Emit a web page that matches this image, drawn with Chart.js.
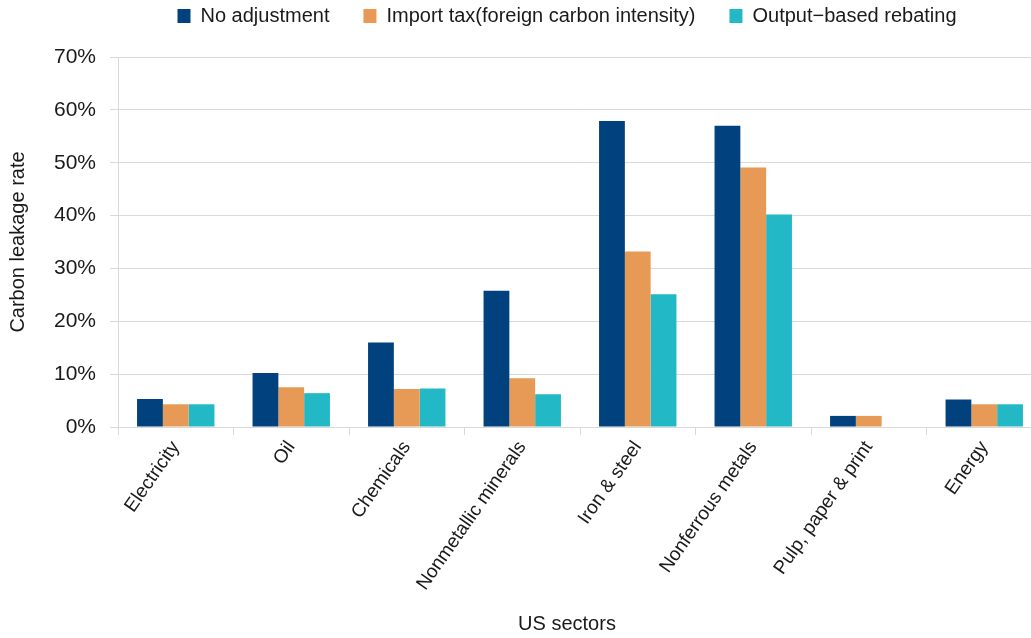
<!DOCTYPE html>
<html>
<head>
<meta charset="utf-8">
<script src="https://cdn.jsdelivr.net/npm/chart.js@4.4.1/dist/chart.umd.min.js"></script>
<style>
  html, body { margin: 0; padding: 0; background: #ffffff; overflow: hidden; }
  #wrap { width: 1042px; height: 638px; position: relative; }
</style>
</head>
<body>
<div id="wrap"><canvas id="chart"></canvas></div>
<script>
// US sectors and carbon leakage rates (%) under three border policies
const sectors = ['Electricity', 'Oil', 'Chemicals', 'Nonmetallic minerals', 'Iron & steel', 'Nonferrous metals', 'Pulp, paper & print', 'Energy'];
const noAdjustment = [5.3, 10.2, 16.0, 25.8, 57.9, 57.0, 2.1, 5.2];
const importTax = [4.3, 7.5, 7.2, 9.2, 33.2, 49.1, 2.1, 4.3];
const outputRebating = [4.3, 6.4, 7.3, 6.2, 25.1, 40.2, 0, 4.3];
const seriesNames = ['No adjustment', 'Import tax(foreign carbon intensity)', 'Output\u2212based rebating'];
const yTicks = [0, 10, 20, 30, 40, 50, 60, 70];

const FONT = "'Liberation Sans', Arial, sans-serif";
const TEXT = '#1a1a1a';
const GRID = '#d9d9d9';

// nudge the legend row and the x-axis title
const placement = {
  id: 'placement',
  afterLayout(chart) {
    const o = chart.options.plugins.placement;
    const lg = chart.legend;
    lg.left += o.legendDx; lg.right += o.legendDx;
    lg.top += o.legendDy; lg.bottom += o.legendDy;
  },
  beforeDraw(chart) {
    const o = chart.options.plugins.placement;
    const s = chart.scales.x;
    if (!s._titleShifted) {
      const orig = s.drawTitle.bind(s);
      s.drawTitle = function () {
        const c = chart.ctx;
        c.save();
        c.translate(o.titleDx, 0);
        orig();
        c.restore();
      };
      s._titleShifted = true;
    }
  }
};

new Chart(document.getElementById('chart'), {
  type: 'bar',
  data: {
    labels: sectors,
    datasets: [
      { label: seriesNames[0], data: noAdjustment, backgroundColor: '#00417e' },
      { label: seriesNames[1], data: importTax, backgroundColor: '#e69a55' },
      { label: seriesNames[2], data: outputRebating, backgroundColor: '#22b8c5' }
    ]
  },
  plugins: [placement],
  options: {
    responsive: true,
    maintainAspectRatio: false,
    animation: false,
    events: [],
    datasets: { bar: { barPercentage: 1, categoryPercentage: 0.67, borderWidth: 0 } },
    layout: { padding: { top: -7, left: 0, right: 0, bottom: 2 } },
    plugins: {
      placement: { legendDx: 46, legendDy: -21, titleDx: -13 },
      tooltip: { enabled: false },
      legend: {
        position: 'top',
        labels: {
          font: { family: FONT, size: 20 },
          color: TEXT,
          boxWidth: 13,
          boxHeight: 14,
          padding: 34
        }
      }
    },
    scales: {
      x: {
        afterFit: s => { s.height = 209; },
        grid: { drawOnChartArea: false, color: GRID, tickLength: 8, offset: true },
        border: { color: GRID },
        ticks: {
          font: { family: FONT, size: 19 },
          color: TEXT,
          minRotation: 55,
          maxRotation: 55,
          padding: 2,
          autoSkip: false
        },
        title: {
          display: true,
          text: 'US sectors',
          font: { family: FONT, size: 20 },
          color: TEXT,
          padding: { top: 6, bottom: 0 }
        }
      },
      y: {
        min: 0,
        max: 70,
        afterBuildTicks: s => { s.ticks = yTicks.map(v => ({ value: v })); },
        afterFit: s => { s.width = 118; },
        grid: { color: GRID, tickLength: 8 },
        border: { color: GRID },
        ticks: {
          font: { family: FONT, size: 21 },
          color: TEXT,
          padding: 14,
          callback: v => v + '%'
        },
        title: {
          display: true,
          text: 'Carbon leakage rate',
          font: { family: FONT, size: 20 },
          color: TEXT,
          padding: { top: 6, bottom: 0 }
        }
      }
    }
  }
});
</script>
</body>
</html>
